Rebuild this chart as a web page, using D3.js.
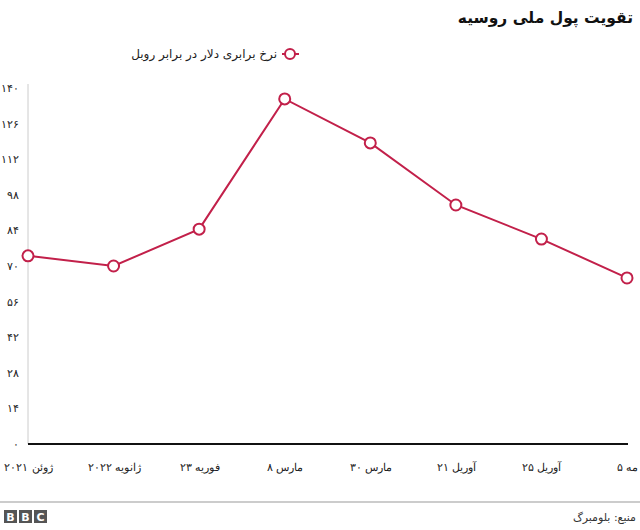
<!DOCTYPE html>
<html lang="fa">
<meta charset="utf-8">
<style>
body {
  margin: 0;
  font-family: 'DejaVu Sans', sans-serif;
  background: #fff;
}
.axis text {
  font-size: 11px;
  fill: #222;
}
</style>
<body>
<div id="chart"></div>
<script src="https://d3js.org/d3.v7.min.js"></script>
<script>

// chart values
var dates = ["ژوئن ۲۰۲۱", "ژانویه ۲۰۲۲", "۲۳ فوریه", "۸ مارس", "۳۰ مارس", "۲۱ آوریل", "۲۵ آوریل", "۵ مه"];
var rates = [74, 70, 84.5, 135.7, 118.4, 94, 80.6, 65.3];
var yTicks = [0, 14, 28, 42, 56, 70, 84, 98, 112, 126, 140];

var width = 640,
    height = 530;

var color = "#c2204a";

// persian digits for tick labels
function fa(n) {
  return String(n).replace(/\d/g, function(d) { return "۰۱۲۳۴۵۶۷۸۹"[+d]; });
}

var svg = d3.select("#chart").append("svg")
    .attr("width", width)
    .attr("height", height);

var x = d3.scalePoint()
    .domain(dates)
    .range([28, 627]);

var y = d3.scaleLinear()
    .domain([0, 140])
    .range([444, 88]);

// title
svg.append("text")
    .attr("x", 633)
    .attr("y", 23)
    .attr("text-anchor", "end")
    .style("font-size", "15.5px")
    .style("font-weight", "bold")
    .style("fill", "#111")
    .text("تقویت پول ملی روسیه");

// legend
var legend = svg.append("g").attr("transform", "translate(290,54)");
legend.append("line")
    .attr("x1", -8).attr("x2", 9)
    .attr("stroke", color).attr("stroke-width", 2);
legend.append("circle")
    .attr("r", 5)
    .attr("fill", "#fff")
    .attr("stroke", color).attr("stroke-width", 2);
legend.append("text")
    .attr("x", -13)
    .attr("y", 4)
    .attr("text-anchor", "end")
    .style("font-size", "12px")
    .style("fill", "#222")
    .text("نرخ برابری دلار در برابر روبل");

// y axis
var yAxis = svg.append("g")
    .attr("class", "axis")
    .attr("transform", "translate(28,0)")
    .call(d3.axisLeft(y).tickValues(yTicks).tickSize(0).tickPadding(9).tickFormat(fa));
yAxis.select(".domain").remove();
svg.append("line")
    .attr("x1", 28).attr("x2", 28)
    .attr("y1", 84).attr("y2", 444)
    .attr("stroke", "#ccc");

// x axis (LRM keeps the day number on the left like the original)
var xAxis = svg.append("g")
    .attr("class", "axis")
    .attr("transform", "translate(0,444)")
    .call(d3.axisBottom(x).tickSize(0).tickPadding(19)
      .tickFormat(function(d) { return "\u200E" + d; }));
xAxis.select(".domain").remove();
svg.append("line")
    .attr("x1", 28).attr("x2", 628)
    .attr("y1", 444).attr("y2", 444)
    .attr("stroke", "#111").attr("stroke-width", 2);

// series line
var line = d3.line()
    .x(function(d, i) { return x(dates[i]); })
    .y(function(d) { return y(d); });

svg.append("path")
    .datum(rates)
    .attr("fill", "none")
    .attr("stroke", color)
    .attr("stroke-width", 2)
    .attr("d", line);

svg.selectAll(".dot")
    .data(rates)
  .enter().append("circle")
    .attr("class", "dot")
    .attr("cx", function(d, i) { return x(dates[i]); })
    .attr("cy", function(d) { return y(d); })
    .attr("r", 5.5)
    .attr("fill", "#fff")
    .attr("stroke", color)
    .attr("stroke-width", 2);

// footer
svg.append("line")
    .attr("x1", 0).attr("x2", 640)
    .attr("y1", 502).attr("y2", 502)
    .attr("stroke", "#999");

var logo = svg.append("g").attr("transform", "translate(4,510)");
["B", "B", "C"].forEach(function(l, i) {
  logo.append("rect")
      .attr("x", i * 15).attr("y", 0)
      .attr("width", 13).attr("height", 13)
      .attr("fill", "#555");
  logo.append("text")
      .attr("x", i * 15 + 6.5).attr("y", 11)
      .attr("text-anchor", "middle")
      .style("font-size", "11px")
      .style("font-weight", "bold")
      .style("fill", "#fff")
      .text(l);
});

svg.append("text")
    .attr("x", 636)
    .attr("y", 521)
    .attr("text-anchor", "end")
    .style("font-size", "11px")
    .style("fill", "#333")
    .text("منبع: بلومبرگ");

</script>
</body>
</html>
